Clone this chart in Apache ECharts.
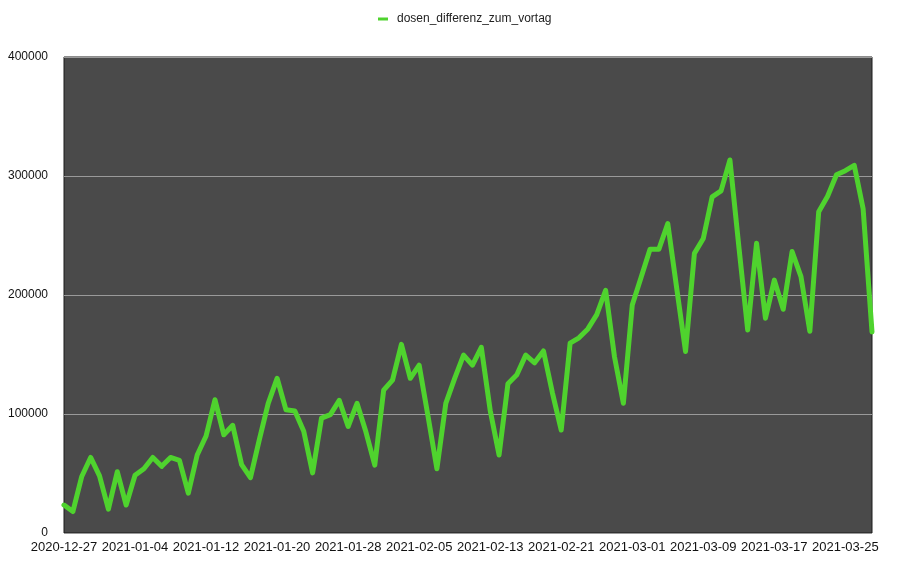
<!DOCTYPE html>
<html>
<head>
<meta charset="utf-8">
<script src="https://cdn.jsdelivr.net/npm/echarts@6/dist/echarts.min.js"></script>
<style>
html,body{margin:0;padding:0;background:#fff;}
#chart{width:909px;height:564px;}
</style>
</head>
<body>
<div id="chart"></div>
<script>
const seriesName = 'dosen_differenz_zum_vortag';
const dates = [
'2020-12-27','2020-12-28','2020-12-29','2020-12-30','2020-12-31',
'2021-01-01','2021-01-02','2021-01-03','2021-01-04','2021-01-05','2021-01-06','2021-01-07','2021-01-08','2021-01-09','2021-01-10',
'2021-01-11','2021-01-12','2021-01-13','2021-01-14','2021-01-15','2021-01-16','2021-01-17','2021-01-18','2021-01-19','2021-01-20',
'2021-01-21','2021-01-22','2021-01-23','2021-01-24','2021-01-25','2021-01-26','2021-01-27','2021-01-28','2021-01-29','2021-01-30','2021-01-31',
'2021-02-01','2021-02-02','2021-02-03','2021-02-04','2021-02-05','2021-02-06','2021-02-07','2021-02-08','2021-02-09','2021-02-10',
'2021-02-11','2021-02-12','2021-02-13','2021-02-14','2021-02-15','2021-02-16','2021-02-17','2021-02-18','2021-02-19','2021-02-20',
'2021-02-21','2021-02-22','2021-02-23','2021-02-24','2021-02-25','2021-02-26','2021-02-27','2021-02-28',
'2021-03-01','2021-03-02','2021-03-03','2021-03-04','2021-03-05','2021-03-06','2021-03-07','2021-03-08','2021-03-09','2021-03-10',
'2021-03-11','2021-03-12','2021-03-13','2021-03-14','2021-03-15','2021-03-16','2021-03-17','2021-03-18','2021-03-19','2021-03-20',
'2021-03-21','2021-03-22','2021-03-23','2021-03-24','2021-03-25','2021-03-26','2021-03-27','2021-03-28'
];
const values = [
23500,18000,47500,63500,48000,20000,51500,23500,48500,54000,
63500,56000,63500,61000,33500,65500,81500,112000,82500,90500,
57500,46500,78500,109000,130000,103500,102500,85500,50500,96500,
99500,111500,89500,109000,85000,57000,120000,128500,158500,130000,
141000,98000,54000,109000,130000,149500,141000,156000,103000,65500,
125500,133000,149500,143000,153000,118000,86500,159500,164000,171500,
183500,204000,148000,109000,191500,215000,238500,238500,260000,206000,
152500,235000,247500,282500,287500,313500,241000,170500,243500,180500,
212500,188000,236500,215500,169500,270000,283000,301000,304500,309000,
272500,169000
];
const yTicks = [0, 100000, 200000, 300000, 400000];

const chart = echarts.init(document.getElementById('chart'), null, {renderer: 'canvas'});
const font = "'Liberation Sans', Arial, Helvetica, sans-serif";
chart.setOption({
  animation: false,
  backgroundColor: '#ffffff',
  textStyle: {fontFamily: font},
  legend: {
    top: 8,
    left: 373,
    icon: 'rect',
    itemWidth: 10,
    itemHeight: 3,
    itemGap: 8,
    textStyle: {fontSize: 12, color: '#222', fontFamily: font, padding: [0, 0, 0, 4]},
    data: [seriesName]
  },
  grid: {
    left: 64, right: 37, top: 57, bottom: 31,
    show: true,
    backgroundColor: '#4a4a4a',
    borderColor: '#1a1a1a',
    borderWidth: 1,
    containLabel: false
  },
  xAxis: {
    type: 'category',
    boundaryGap: false,
    data: dates,
    axisLine: {show: false},
    axisTick: {show: false},
    axisLabel: {interval: 7, fontSize: 13, color: '#111', margin: 8, fontFamily: font},
    splitLine: {show: false}
  },
  yAxis: {
    type: 'value',
    min: yTicks[0],
    max: yTicks[yTicks.length - 1],
    interval: 100000,
    axisLine: {show: false},
    axisTick: {show: false},
    axisLabel: {fontSize: 12, color: '#111', margin: 16, fontFamily: font, formatter: function (v) { return String(v); }},
    splitLine: {show: true, lineStyle: {color: '#9a9a9a', width: 1}}
  },
  series: [{
    name: seriesName,
    type: 'line',
    data: values,
    showSymbol: false,
    symbol: 'none',
    smooth: false,
    itemStyle: {color: '#4fd32e'},
    lineStyle: {color: '#4fd32e', width: 5, join: 'round', cap: 'round'}
  }]
});
</script>
</body>
</html>
